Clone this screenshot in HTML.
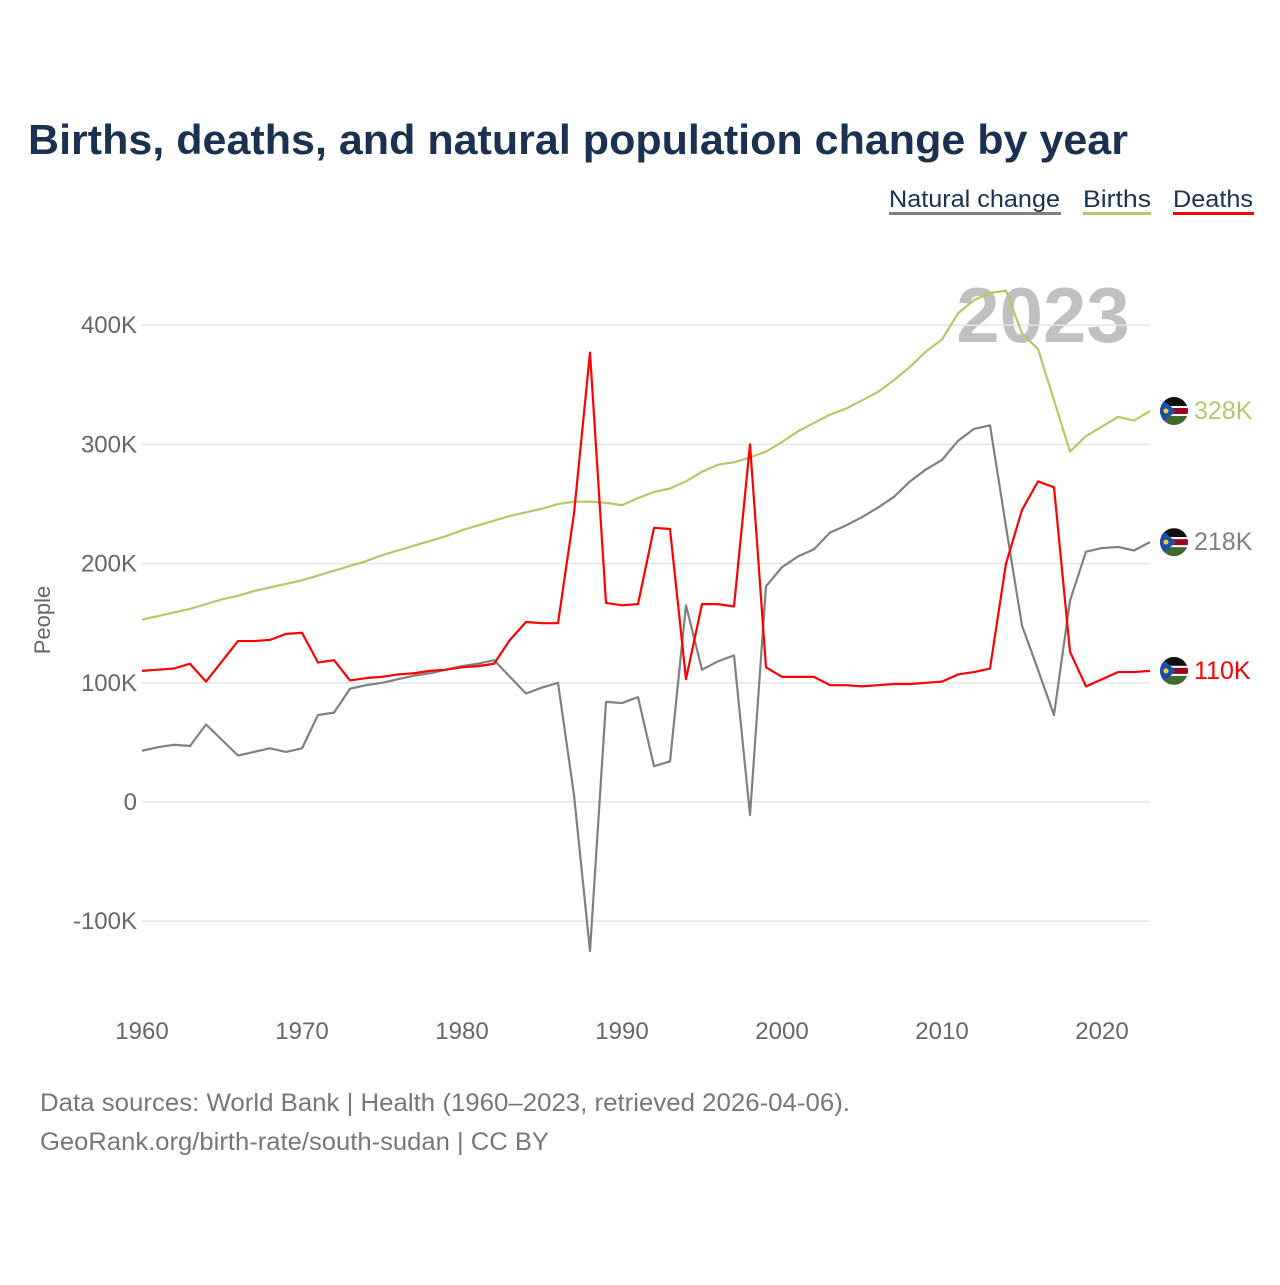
<!DOCTYPE html>
<html><head><meta charset="utf-8"><style>
body{margin:0;background:#fff;width:1280px;height:1280px;overflow:hidden;font-family:"Liberation Sans",sans-serif}
</style></head><body>
<svg id="chart" width="1280" height="1280" viewBox="0 0 1280 1280" xmlns="http://www.w3.org/2000/svg" font-family="Liberation Sans, sans-serif">
<text x="28" y="154" font-size="42" font-weight="bold" fill="#1b3152" textLength="1100" lengthAdjust="spacingAndGlyphs">Births, deaths, and natural population change by year</text>
<g>
<g><text x="889" y="207" font-size="24" fill="#1b3152" textLength="171" lengthAdjust="spacingAndGlyphs">Natural change</text><rect x="889" y="212" width="172" height="3" fill="#808080"/></g>
<g><text x="1083" y="207" font-size="24" fill="#1b3152" textLength="68" lengthAdjust="spacingAndGlyphs">Births</text><rect x="1083" y="212" width="68" height="3" fill="#b5c76a"/></g>
<g><text x="1173" y="207" font-size="24" fill="#1b3152" textLength="80" lengthAdjust="spacingAndGlyphs">Deaths</text><rect x="1173" y="212" width="81" height="3" fill="#ff0000"/></g>
</g>
<text x="1043" y="342" font-size="78" font-weight="bold" fill="#c0c0c0" text-anchor="middle">2023</text>
<g id="grid"></g>
<g id="xaxis"></g>
<text transform="translate(50,620) rotate(-90)" font-size="22" fill="#666" text-anchor="middle">People</text>
<g id="lines"></g>
<g id="ends"></g>
<text x="40" y="1111" font-size="25" fill="#777" textLength="810" lengthAdjust="spacingAndGlyphs">Data sources: World Bank | Health (1960–2023, retrieved 2026-04-06).</text>
<text x="40" y="1150" font-size="25" fill="#777" textLength="509" lengthAdjust="spacingAndGlyphs">GeoRank.org/birth-rate/south-sudan | CC BY</text>
</svg>
<script>
const years = [];for(let y=1960;y<=2023;y++)years.push(y);
const births = [153,156,159,162,166,170,173,177,180,183,186,190,194,198,202,207,211,215,219,223,228,232,236,240,243,246,250,252,252,251,249,255,260,263,269,277,283,285,289,294,302,311,318,325,330,337,344,354,365,378,388,410,421,427,429,393,380,337,294,307,315,323,320,328];
const deaths = [110,111,112,116,101,118,135,135,136,141,142,117,119,102,104,105,107,108,110,111,113,114,116,136,151,150,150,242,377,167,165,166,230,229,103,166,166,164,300,113,105,105,105,98,98,97,98,99,99,100,101,107,109,112,200,245,269,264,126,97,103,109,109,110];
const natural = [43,46,48,47,65,52,39,42,45,42,45,73,75,95,98,100,103,106,108,111,114,116,119,105,91,96,100,6,-125,84,83,88,30,34,165,111,118,123,-11,181,197,206,212,226,232,239,247,256,269,279,287,303,313,316,231,148,111,73,169,210,213,214,211,218];
const yTicks = [-100,0,100,200,300,400];
const xTicks = [1960,1970,1980,1990,2000,2010,2020];
const NS="http://www.w3.org/2000/svg";
const X = y => 142 + (y-1960)*16;
const Y = v => 802 - v*1.192;
function mk(tag,attrs,parent){const e=document.createElementNS(NS,tag);for(const k in attrs)e.setAttribute(k,attrs[k]);parent.appendChild(e);return e;}
const grid=document.getElementById('grid');
yTicks.forEach(t=>{
  const l=mk('line',{x1:142,x2:1150,y1:Y(t),y2:Y(t),stroke:'#e6e6e6','stroke-width':1.5},grid);
  
  
  const tx=mk('text',{x:137,y:Y(t)+8,'font-size':24,fill:'#666','text-anchor':'end'},grid);
  
  
  tx.textContent = t===0?'0':t+'K';
});
const xa=document.getElementById('xaxis');
xTicks.forEach(t=>{
  const tx=mk('text',{x:X(t),y:1039,'font-size':24,fill:'#666','text-anchor':'middle'},xa);
  
  
  tx.textContent=t;
});
const lines=document.getElementById('lines');
const series=[['natural-change-line',natural,'#808080'],['births-line',births,'#b5c76a'],['deaths-line',deaths,'#ff0000']];
series.forEach(([n,d,c])=>{
  const p=mk('polyline',{points:d.map((v,i)=>X(years[i])+','+Y(v)).join(' '),fill:'none',stroke:c,'stroke-width':2.2,'stroke-linejoin':'round'},lines);
  
  
});
const ends=document.getElementById('ends');
[['births',births,'#b5c76a'],['natural-change',natural,'#808080'],['deaths',deaths,'#ff0000']].forEach(([n,d,c])=>{
  const v=d[d.length-1], cy=Y(v), cx=1174;
  const g=mk('g',{},ends);
  
  
  const cp='clip-'+n;
  const cl=mk('clipPath',{id:cp},g);mk('circle',{cx:cx,cy:cy,r:14},cl);
  const f=mk('g',{'clip-path':'url(#'+cp+')'},g);
  mk('rect',{x:cx-14,y:cy-14,width:28,height:9,fill:'#111'},f);
  mk('rect',{x:cx-14,y:cy-5,width:28,height:10,fill:'#fff'},f);
  mk('rect',{x:cx-14,y:cy-3,width:28,height:6,fill:'#a00020'},f);
  mk('rect',{x:cx-14,y:cy+5,width:28,height:9,fill:'#3e6b2a'},f);
  mk('polygon',{points:(cx-14)+','+(cy-14)+' '+(cx+2)+','+cy+' '+(cx-14)+','+(cy+14),fill:'#1a4fb0'},f);
  mk('circle',{cx:cx-8,cy:cy,r:2.5,fill:'#f5d020'},f);
  const t=mk('text',{x:1194,y:cy+8,'font-size':25,fill:c},g);
  t.textContent=Math.round(v)+'K';
});
</script>
</body></html>
